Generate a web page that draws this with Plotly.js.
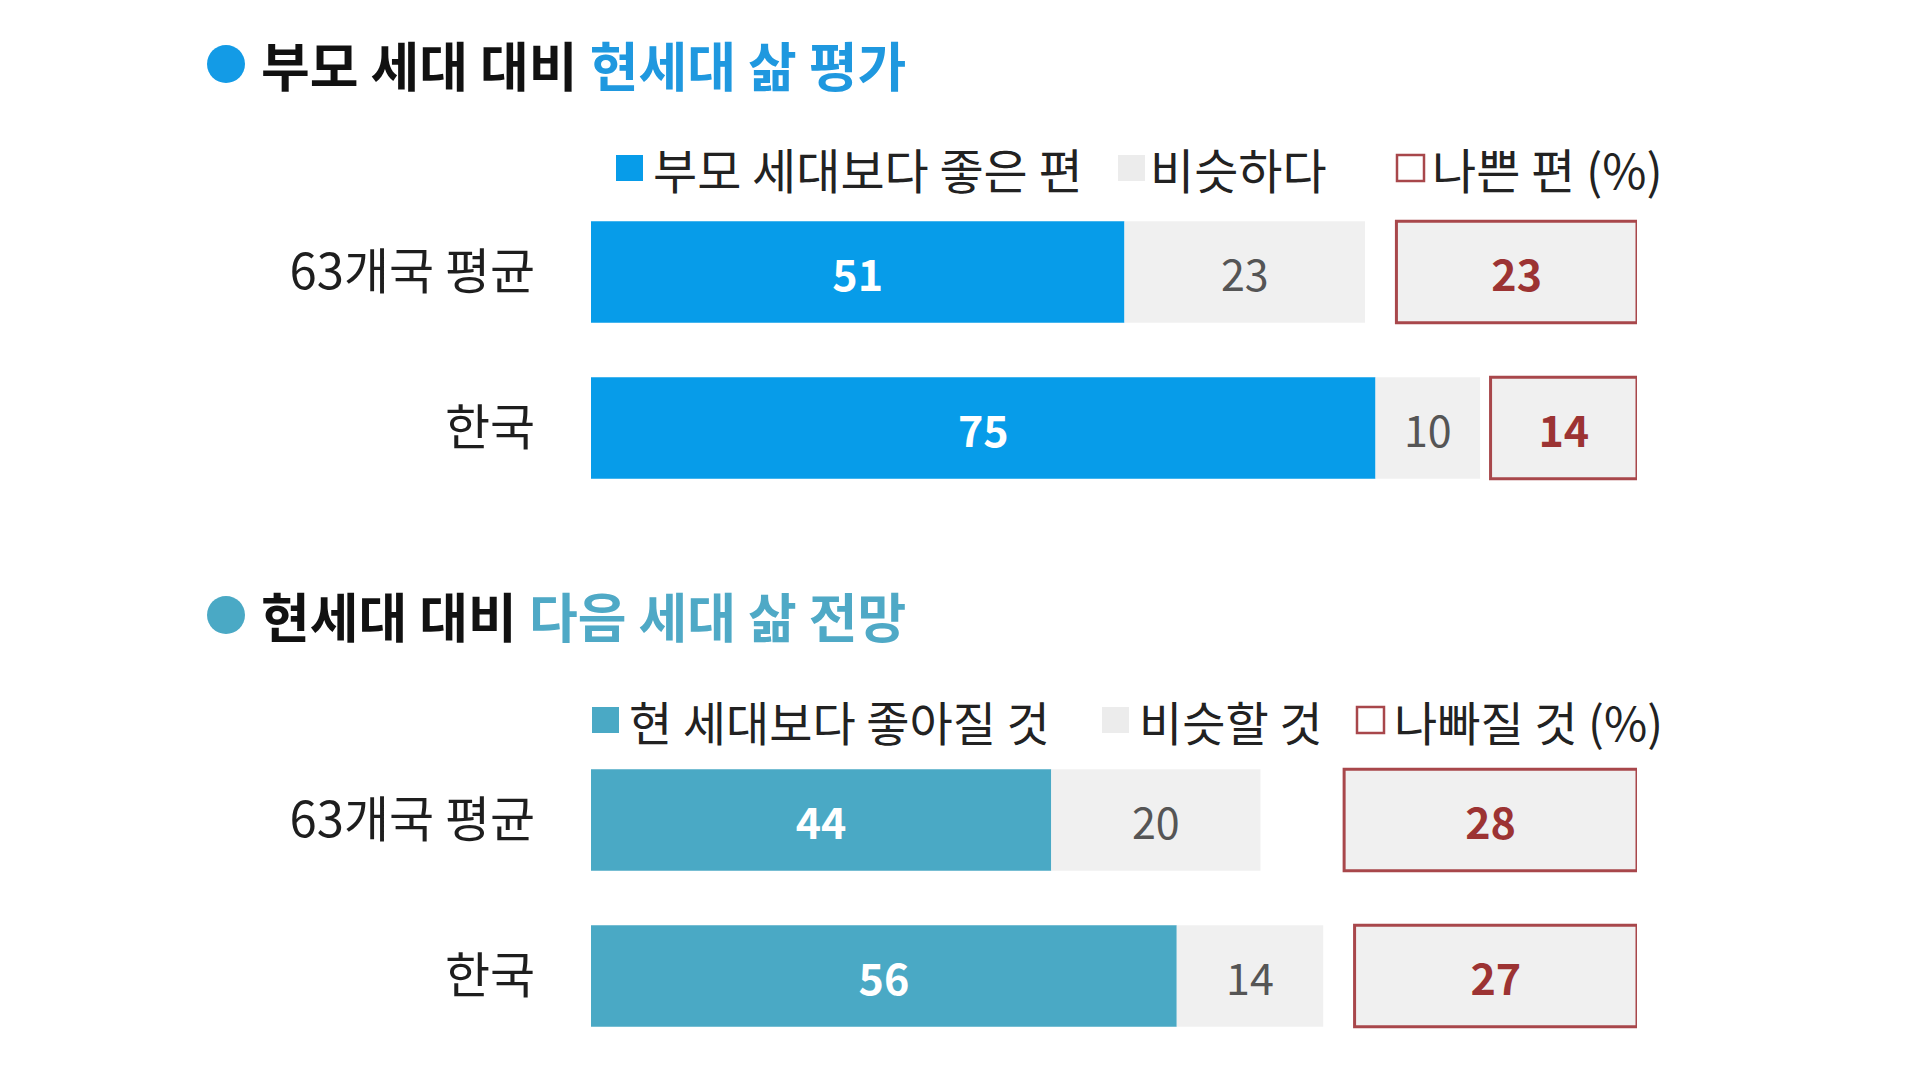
<!DOCTYPE html>
<html>
<head>
<meta charset="utf-8">
<script src="https://cdn.plot.ly/plotly-3.0.1.min.js"></script>
<style>
  html, body { margin: 0; padding: 0; background: #fff; }
  #chart { width: 1920px; height: 1080px; }
</style>
</head>
<body>
<div id="chart"></div>
<script>
(function () {
    'use strict';

    // rows, top to bottom
    var categories = ['63개국 평균', '한국'];

    // 부모 세대 대비 현세대 삶 평가 (%)
    var pastBetter = [51, 75];
    var pastSame = [23, 10];
    var pastWorse = [23, 14];

    // 현세대 대비 다음 세대 삶 전망 (%)
    var nextBetter = [44, 56];
    var nextSame = [20, 14];
    var nextWorse = [28, 27];

    var pastLegend = ['부모 세대보다 좋은 편', '비슷하다', '나쁜 편 (%)'];
    var nextLegend = ['현 세대보다 좋아질 것', '비슷할 것', '나빠질 것 (%)'];

    var FONT = "'Noto Sans CJK KR', 'Noto Sans', sans-serif";
    var BLUE = '#079ce9';
    var TEAL = '#4aa9c5';
    var GRAY = '#f0f0f0';
    var RED_LINE = '#a8474b';
    var RED_TEXT = '#9c3333';

    var W = 1920, H = 1080;
    function px(x) { return x / W; }
    function py(y) { return 1 - y / H; }

    // the "worse" box sits flush against 100
    function worseBase(worse) {
        return worse.map(function (v) { return 100 - v; });
    }

    function sectionTraces(better, same, worse, mainColor, xa, ya) {
        var common = {
            type: 'bar',
            orientation: 'h',
            y: categories,
            width: 0.65,
            textposition: 'inside',
            insidetextanchor: 'middle',
            textangle: 0,
            hoverinfo: 'skip',
            xaxis: xa,
            yaxis: ya
        };
        return [
            Object.assign({}, common, {
                x: better,
                text: better.map(String),
                marker: { color: mainColor, line: { width: 0 } },
                textfont: { family: FONT, size: 43, color: '#ffffff', weight: 'bold' }
            }),
            Object.assign({}, common, {
                x: same,
                base: better,
                text: same.map(String),
                marker: { color: GRAY, line: { width: 0 } },
                textfont: { family: FONT, size: 43, color: '#555555' }
            }),
            Object.assign({}, common, {
                x: worse,
                base: worseBase(worse),
                text: worse.map(String),
                marker: { color: GRAY, line: { width: 3, color: RED_LINE } },
                textfont: { family: FONT, size: 43, color: RED_TEXT, weight: 'bold' }
            })
        ];
    }

    var data = sectionTraces(pastBetter, pastSame, pastWorse, BLUE, 'x', 'y')
        .concat(sectionTraces(nextBetter, nextSame, nextWorse, TEAL, 'x2', 'y2'));

    var xDomain = [px(591), px(1637)];
    function xAxis(anchor) {
        return {
            domain: xDomain, range: [0, 100], anchor: anchor,
            showgrid: false, zeroline: false, showline: false,
            showticklabels: false, ticks: '', fixedrange: true
        };
    }
    function yAxis(anchor, top, bottom) {
        return {
            domain: [py(bottom), py(top)], anchor: anchor,
            type: 'category', range: [1.5, -0.5],
            showgrid: false, zeroline: false, showline: false,
            ticks: 'outside', ticklen: 45, tickcolor: 'rgba(0,0,0,0)',
            tickfont: { family: FONT, size: 49, color: '#1e1e1e' },
            fixedrange: true
        };
    }

    // titles and hand-built legends
    var shapes = [];
    var annotations = [];

    function addTitle(y, dotColor, html) {
        shapes.push({
            type: 'circle', xref: 'paper', yref: 'paper',
            x0: px(207), x1: px(245), y0: py(y + 19), y1: py(y - 19),
            fillcolor: dotColor, line: { width: 0 }
        });
        annotations.push({
            xref: 'paper', yref: 'paper', x: px(259), y: py(y),
            xanchor: 'left', yanchor: 'middle', showarrow: false,
            text: html,
            font: { family: FONT, size: 53, color: '#111111' }
        });
    }

    function addLegend(y, labels, boxX, textX, mainColor, size) {
        var fills = [mainColor, '#ececec', '#ffffff'];
        var lines = [{ width: 0 }, { width: 0 }, { width: 2.5, color: RED_LINE }];
        labels.forEach(function (label, i) {
            shapes.push({
                type: 'rect', xref: 'paper', yref: 'paper',
                x0: px(boxX[i]), x1: px(boxX[i] + 27),
                y0: py(y + 13), y1: py(y - 13),
                fillcolor: fills[i], line: lines[i]
            });
            annotations.push({
                xref: 'paper', yref: 'paper', x: px(textX[i]), y: py(y),
                xanchor: 'left', yanchor: 'middle', showarrow: false,
                text: label,
                font: { family: FONT, size: size, color: '#222222' }
            });
        });
    }

    addTitle(64, '#139be6',
        '<b>부모 세대 대비 <span style="color:#1f98df">현세대 삶 평가</span></b>');
    addLegend(168, pastLegend, [616, 1118, 1397], [651, 1148, 1430], BLUE, 48);

    addTitle(615, TEAL,
        '<b>현세대 대비 <span style="color:#4fa9c6">다음 세대 삶 전망</span></b>');
    addLegend(720, nextLegend, [592, 1102, 1357], [627, 1137, 1392], TEAL, 47);

    var layout = {
        width: W, height: H,
        margin: { l: 0, r: 0, t: 0, b: 0, pad: 0 },
        paper_bgcolor: '#ffffff',
        plot_bgcolor: 'rgba(0,0,0,0)',
        barmode: 'overlay',
        showlegend: false,
        font: { family: FONT },
        xaxis: xAxis('y'),
        yaxis: yAxis('x', 194, 506),
        xaxis2: xAxis('y2'),
        yaxis2: yAxis('x2', 742, 1054),
        shapes: shapes,
        annotations: annotations
    };

    Plotly.newPlot('chart', data, layout, { displayModeBar: false, staticPlot: true });
})();
</script>
</body>
</html>
